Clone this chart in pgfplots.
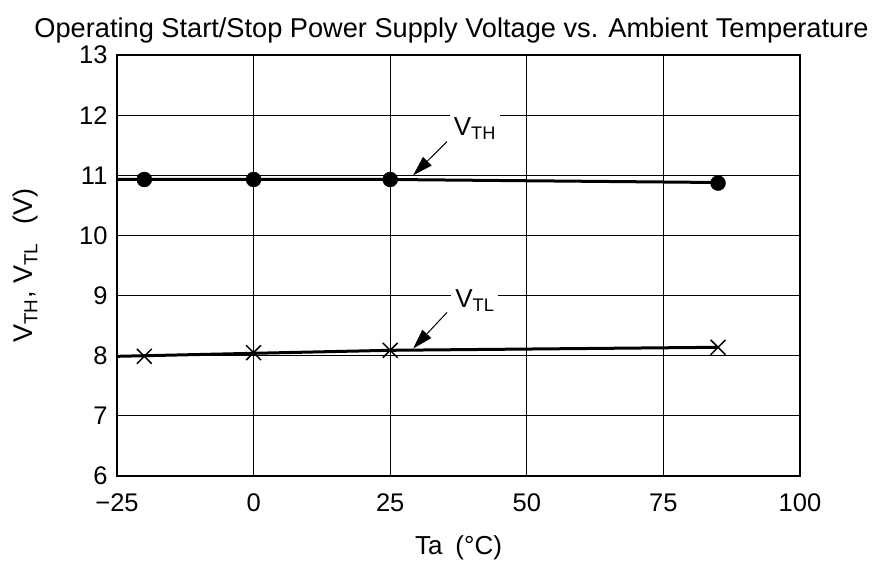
\documentclass[border=0pt]{standalone}
\usepackage{fontspec}
\setmainfont{Liberation Sans}
\usepackage{pgfplots}
\pgfplotsset{compat=1.18}
\usetikzlibrary{arrows.meta}
\begin{document}
\begin{tikzpicture}
\begin{axis}[
  scale only axis,
  width=683pt, height=421pt,
  xmin=-25, xmax=100, ymin=6, ymax=13,
  xtick={-25,0,25,50,75,100},
  xticklabels={−25,0,25,50,75,100},
  ytick={6,7,8,9,10,11,12,13},
  yticklabels={6,7,8,9,10,11,12,13},
  tick style={draw=none},
  grid=major,
  grid style={black, line width=0.9pt},
  axis line style={line width=1.4pt},
  ticklabel style={font=\fontsize{25.5}{30}\selectfont},
  xticklabel style={yshift=-14pt},
  yticklabel style={xshift=-6pt},
  xlabel={Ta\enspace(°C)},
  ylabel={V\textsubscript{TH}, V\textsubscript{TL}\hspace{0.7em}(V)},
  xlabel style={font=\fontsize{26}{30}\selectfont, at={(axis description cs:0.5,0)}, anchor=center, yshift=-72pt},
  ylabel style={font=\fontsize{27}{30}\selectfont, at={(axis description cs:0,0.5)}, anchor=center, yshift=91pt},
  title={Operating Start/Stop Power Supply Voltage vs. Ambient Temperature},
  title style={font=\fontsize{27.2}{30}\selectfont, at={(axis description cs:0.5,1)}, anchor=base, yshift=11pt, xshift=-7pt},
  clip=false,
]
% V_TH line
\addplot[black, line width=3pt, no markers] coordinates {(-25,10.93) (0,10.93) (25,10.93) (85,10.88)};
\addplot[only marks, mark=*, mark size=7.5pt, black] coordinates {(-20,10.93) (0,10.93) (25,10.93) (85,10.87)};
% V_TL line
\addplot[black, line width=3pt, no markers] coordinates {(-25,7.99) (0,8.04) (25,8.09) (85,8.14)};
\addplot[only marks, mark=x, mark size=10.5pt, black, line width=1.5pt] coordinates {(-20,7.99) (0,8.05) (25,8.09) (85,8.14)};
% labels
\node[fill=white, inner sep=4pt, font=\fontsize{26}{30}\selectfont] at (axis cs:40.5,11.78) {V\textsubscript{TH}};
\draw[-{Triangle[length=20pt,width=12pt]}, line width=1pt] (axis cs:35.4,11.56) -- (axis cs:29.2,11.0);
\node[fill=white, inner sep=4pt, font=\fontsize{26}{30}\selectfont] at (axis cs:40.5,8.92) {V\textsubscript{TL}};
\draw[-{Triangle[length=20pt,width=12pt]}, line width=1pt] (axis cs:35.4,8.72) -- (axis cs:29.2,8.12);
% bounding box to match reference margins
\path (rel axis cs:0,0) ++(-117pt,-85pt) coordinate (bbA);
\path (rel axis cs:1,1) ++(75pt,55pt) coordinate (bbB);
\end{axis}
\end{tikzpicture}
\end{document}
